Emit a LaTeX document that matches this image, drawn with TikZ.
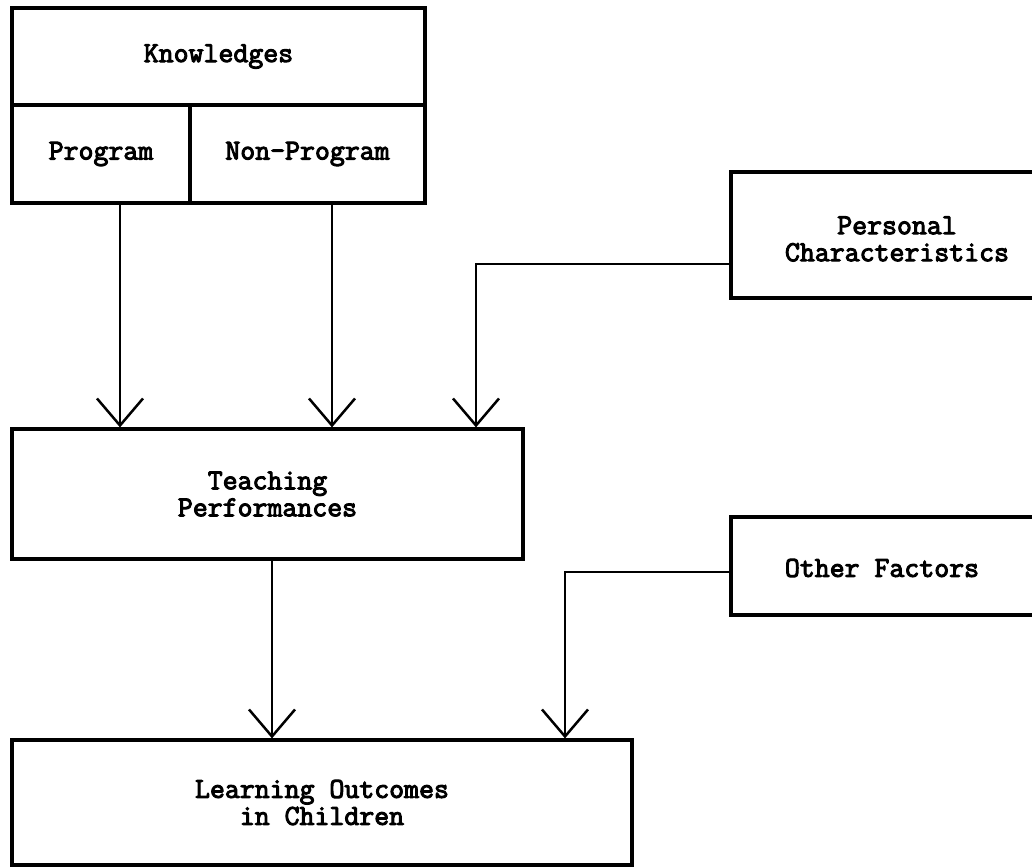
\documentclass[tikz,border=0pt]{standalone}
\usepackage{fontspec}
\newfontfamily\typerfont{Latin Modern Mono}[FakeBold=3.5]
\usetikzlibrary{arrows.meta,calc}
\newcommand{\boxfont}{\typerfont\bfseries\fontsize{29}{27}\selectfont}
\tikzset{
	boxnode/.style={draw, line width=3.2pt, inner sep=0pt, align=center, font=\boxfont},
	link/.style={line width=2.5pt, -{Straight Barb[length=27pt,width=46pt]}},
}
\begin{document}
\begin{tikzpicture}[x=1pt,y=1pt,yscale=-1,xscale=1]
	\useasboundingbox (0,0) rectangle (1032,867);
	\clip (0,0) rectangle (1032,867);
	% knowledges block
	\node [boxnode, minimum width=413pt, minimum height=97pt] (know) at (218.5,56.5) {Knowledges};
	\node [boxnode, minimum width=178pt, minimum height=98pt] (prog) at (101,154) {Program};
	\node [boxnode, minimum width=235pt, minimum height=98pt] (nonprog) at (307.5,154) {Non-Program};
	% side boxes
	\node [boxnode, minimum width=329pt, minimum height=126pt] (pers) at (895.5,235) {};
	\node [font=\boxfont, align=center] (perstext) at (897,239) {Personal\\Characteristics};
	\node [boxnode, minimum width=329pt, minimum height=98pt] (other) at (895.5,566) {};
	\node [font=\boxfont] (othertext) at (882,568) {Other Factors};
	% main boxes
	\node [boxnode, minimum width=511pt, minimum height=130pt] (teach) at (267.5,494) {Teaching\\Performances};
	\node [boxnode, minimum width=620pt, minimum height=125pt] (learn) at (322,802.5) {Learning Outcomes\\in Children};
	% connectors
	\coordinate (progout) at ($(prog.south)+(19,0)$);
	\coordinate (nonprogout) at ($(nonprog.south)+(24.5,0)$);
	\coordinate (persout) at ($(pers.west)+(0,29)$);
	\coordinate (persin) at ($(teach.north)+(208.5,0)$);
	\coordinate (teachout) at ($(teach.south)+(4.5,0)$);
	\coordinate (otherout) at ($(other.west)+(0,6)$);
	\coordinate (otherin) at ($(learn.north)+(243,0)$);
	\draw [link] (progout) -- (progout |- teach.north);
	\draw [link] (nonprogout) -- (nonprogout |- teach.north);
	\draw [link] (persout) -| (persin);
	\draw [link] (teachout) -- (teachout |- learn.north);
	\draw [link] (otherout) -| (otherin);
\end{tikzpicture}
\end{document}
